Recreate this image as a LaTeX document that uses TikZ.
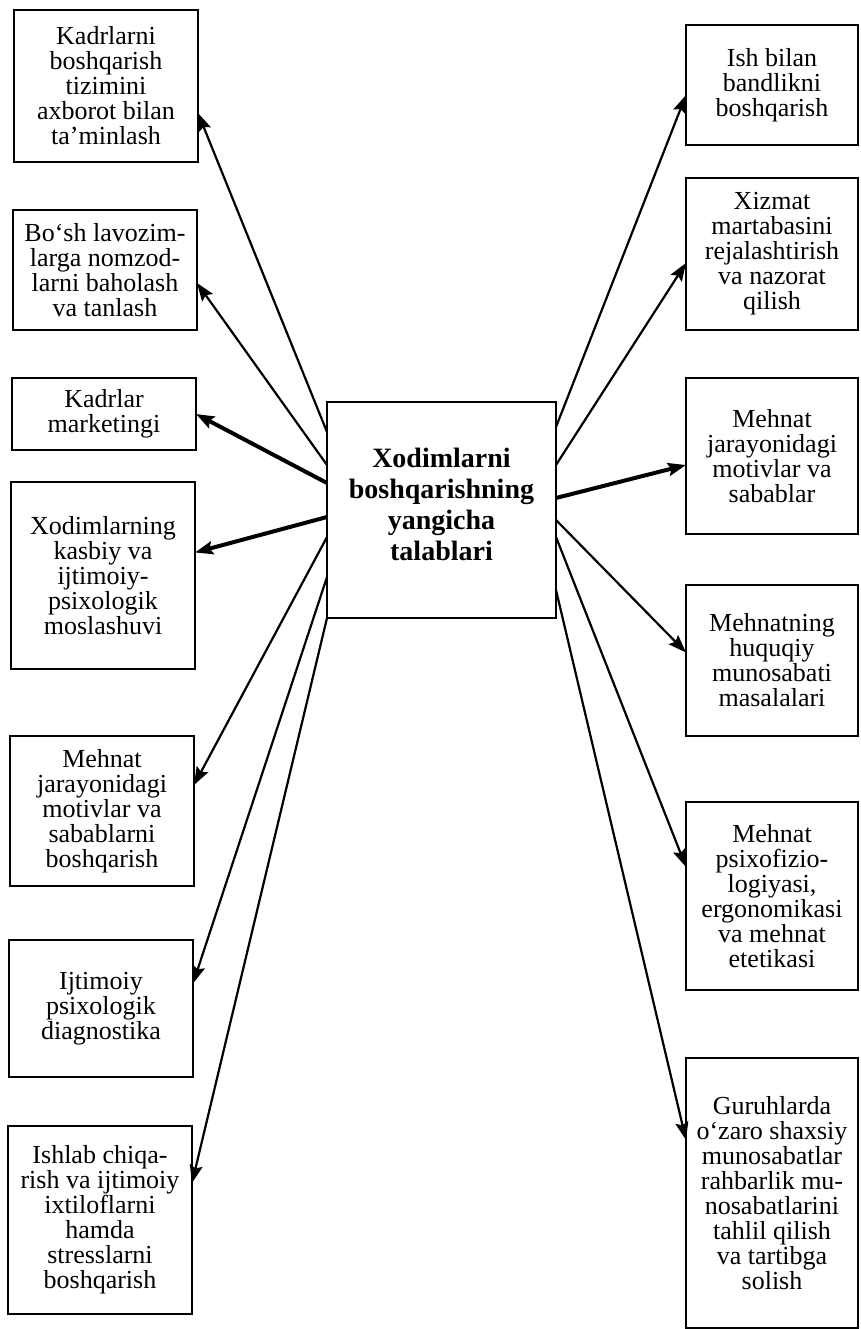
\documentclass[tikz,border=0pt]{standalone}
\usepackage{fontspec}
\setmainfont{Liberation Serif}
\usepackage{tikz}
\usetikzlibrary{arrows.meta,positioning}

\begin{document}
\begin{tikzpicture}[x=1pt,y=1pt,
        >={Stealth[length=18pt,width=13pt,inset=3pt]},
        box/.style={draw,line width=2pt,outer sep=0pt,align=center,inner sep=2pt,
            font=\fontsize{26}{25}\selectfont},
        lbox/.style={box,minimum width=184pt},
        rbox/.style={box,minimum width=172pt},
        link/.style={->,line width=2.2pt},
        biglink/.style={->,line width=4pt}]
    \useasboundingbox (0,0) rectangle (860,-1329);

    % centre
    \node[box,minimum width=229pt,minimum height=216pt,text depth=12pt,
        font=\fontsize{28}{31}\selectfont\bfseries] (X) at (441.5,-510)
        {Xodimlarni\\boshqarishning\\yangicha\\talablari};

    % left column
    \node[lbox,minimum height=152pt] (L1) at (106,-86)
        {Kadrlarni\\boshqarish\\tizimini\\axborot bilan\\ta’minlash};
    \node[lbox,minimum height=120pt] (L2) [below=48pt of L1,xshift=-1pt]
        {Bo‘sh lavozim-\\larga nomzod-\\larni baholash\\va tanlash};
    \node[lbox,minimum height=72pt] (L3) [below=48pt of L2,xshift=-1pt]
        {Kadrlar\\marketingi};
    \node[lbox,minimum height=187pt] (L4) [below=32pt of L3,xshift=-1pt]
        {Xodimlarning\\kasbiy va\\ijtimoiy-\\psixologik\\moslashuvi};
    \node[lbox,minimum height=150pt] (L5) [below=67pt of L4,xshift=-1pt]
        {Mehnat\\jarayonidagi\\motivlar va\\sabablarni\\boshqarish};
    \node[lbox,minimum height=137pt] (L6) [below=54pt of L5,xshift=-1pt]
        {Ijtimoiy\\psixologik\\diagnostika};
    \node[lbox,minimum height=188pt] (L7) [below=49pt of L6,xshift=-1pt]
        {Ishlab chiqa-\\rish va ijtimoiy\\ixtiloflarni\\hamda\\stresslarni\\boshqarish};

    % right column
    \node[rbox,minimum height=120pt] (R1) at (772,-85)
        {Ish bilan\\bandlikni\\boshqarish};
    \node[rbox,minimum height=152pt] (R2) [below=33pt of R1]
        {Xizmat\\martabasini\\rejalashtirish\\va nazorat\\qilish};
    \node[rbox,minimum height=156pt] (R3) [below=48pt of R2]
        {Mehnat\\jarayonidagi\\motivlar va\\sabablar};
    \node[rbox,minimum height=151pt] (R4) [below=51pt of R3]
        {Mehnatning\\huquqiy\\munosabati\\masalalari};
    \node[rbox,minimum height=188pt] (R5) [below=66pt of R4]
        {Mehnat\\psixofizio-\\logiyasi,\\ergonomikasi\\va mehnat\\etetikasi};
    \node[rbox,minimum height=270pt] (R6) [below=68pt of R5]
        {Guruhlarda\\o‘zaro shaxsiy\\munosabatlar\\rahbarlik mu-\\nosabatlarini\\tahlil qilish\\va tartibga\\solish};

    \draw[link]    ([yshift=78pt]X.west)  -- ([yshift=-27pt]L1.east);
    \draw[link]    ([yshift=45pt]X.west)  -- ([yshift=-13pt]L2.east);
    \draw[biglink] ([yshift=27pt]X.west)  -- (L3.east);
    \draw[biglink] ([yshift=-7pt]X.west)  -- ([yshift=23pt]L4.east);
    \draw[link]    ([yshift=-27pt]X.west) -- ([yshift=26pt]L5.east);
    \draw[link]    ([yshift=-67pt]X.west) -- ([yshift=25pt]L6.east);
    \draw[link]    (X.south west)         -- ([yshift=37pt]L7.east);

    \draw[link]    ([yshift=83pt]X.east)  -- ([yshift=-10pt]R1.west);
    \draw[link]    ([yshift=45pt]X.east)  -- ([yshift=-9pt]R2.west);
    \draw[biglink] ([yshift=12pt]X.east)  -- ([yshift=-9pt]R3.west);
    \draw[link]    ([yshift=-10pt]X.east) -- ([yshift=8pt]R4.west);
    \draw[link]    ([yshift=-27pt]X.east) -- ([yshift=29pt]R5.west);
    \draw[link]    ([yshift=-80pt]X.east) -- ([yshift=53pt]R6.west);
\end{tikzpicture}
\end{document}
